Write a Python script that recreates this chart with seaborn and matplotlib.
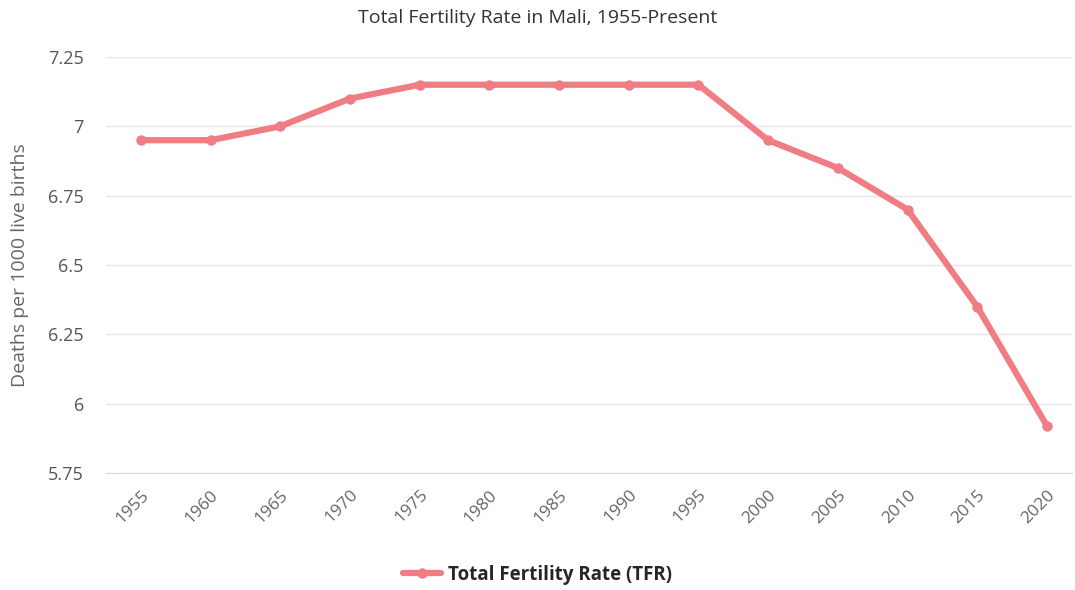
import matplotlib
matplotlib.use('Agg')
import matplotlib.pyplot as plt
import seaborn as sns
import pandas as pd
from matplotlib.lines import Line2D

years = ['1955', '1960', '1965', '1970', '1975', '1980', '1985', '1990', '1995',
         '2000', '2005', '2010', '2015', '2020']
tfr = [6.95, 6.95, 7.0, 7.1, 7.15, 7.15, 7.15, 7.15, 7.15, 6.95, 6.85, 6.7, 6.35, 5.92]
y_ticks = [5.75, 6.0, 6.25, 6.5, 6.75, 7.0, 7.25]
y_labels = ['5.75', '6', '6.25', '6.5', '6.75', '7', '7.25']
series_name = 'Total Fertility Rate (TFR)'

sns.set_style('white')
plt.rcParams['font.family'] = ['Open Sans', 'DejaVu Sans']

df = pd.DataFrame({'year': years, 'tfr': tfr})
col = '#f07c84'

fig = plt.figure(figsize=(10.75, 5.9), dpi=100)
ax = fig.add_axes([106 / 1075, 1 - 473 / 590, (1072 - 106) / 1075, (473 - 57) / 590])

sns.lineplot(data=df, x='year', y='tfr', sort=False, color=col, lw=4.5,
             marker='o', markersize=7.5, markeredgewidth=0, ax=ax)  # main line

ax.set_xlim(-0.5, 13.36)
ax.set_ylim(5.75, 7.25)
ax.set_yticks(y_ticks)
ax.set_yticklabels(y_labels, fontsize=13, color='#555555')
ax.set_xticks(range(len(years)))
ax.set_xticklabels(years, rotation=45, ha='right', rotation_mode='anchor',
                   fontsize=12.5, color='#666666')
ax.tick_params(axis='y', length=0, pad=16)
ax.tick_params(axis='x', length=0, pad=10)
ax.grid(axis='y', color='#e6e6e6', lw=1)
for s in ['top', 'right', 'left']:
    ax.spines[s].set_visible(False)
ax.spines['bottom'].set_color('#ccd6eb')
ax.set_xlabel('')
ax.set_ylabel('Deaths per 1000 live births', fontsize=14, color='#666666', labelpad=14)

fig.text(0.5, 1 - 18 / 590, 'Total Fertility Rate in Mali, 1955-Present',
         ha='center', va='center', fontsize=14, color='#333333')

h = Line2D([0], [0], color=col, lw=4.5, marker='o', markersize=7.5, markeredgewidth=0)
fig.legend([h], [series_name], loc='center', bbox_to_anchor=(0.5, 1 - 575 / 590),
           frameon=False, prop={'weight': 'bold', 'size': 13.5}, handlelength=2.0,
           handletextpad=0.4)

plt.savefig('out.png', dpi=100)
plt.close()
